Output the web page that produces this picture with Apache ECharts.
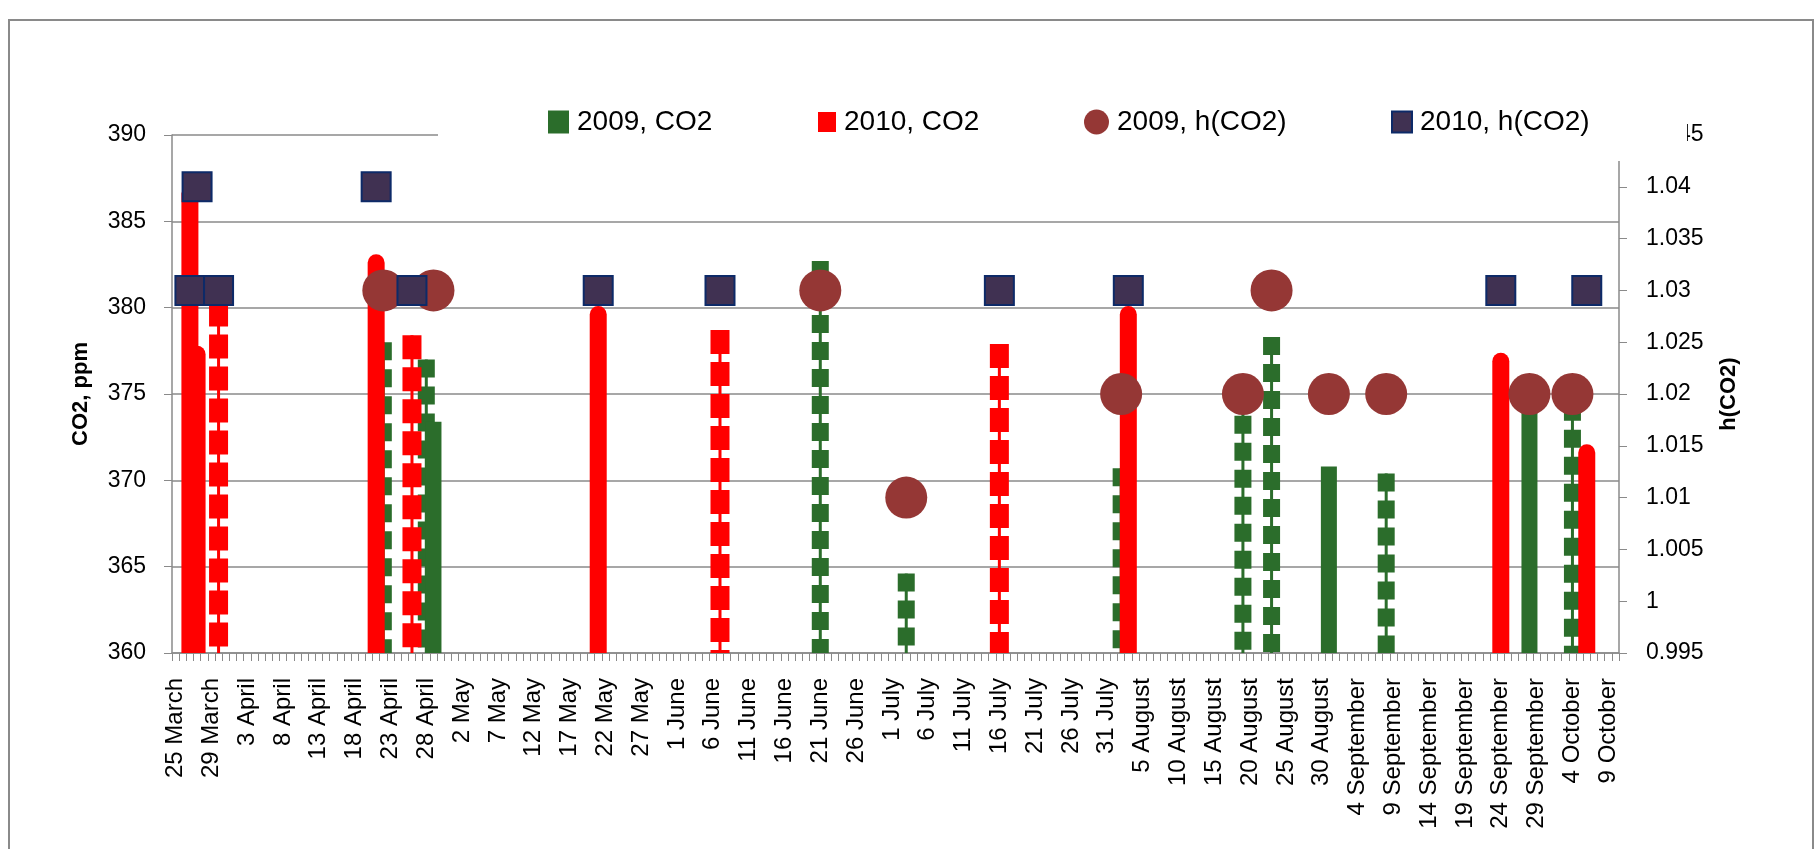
<!DOCTYPE html>
<html>
<head>
<meta charset="utf-8">
<title>CO2 and h(CO2), 2009 and 2010</title>
<script src="https://cdn.jsdelivr.net/npm/echarts@6/dist/echarts.min.js"></script>
<style>
  html, body { margin: 0; padding: 0; background: #fff; }
  #chart { width: 1818px; height: 849px; }
</style>
</head>
<body>
<div id="chart"></div>
<script>
// x-axis: one label every 5th day slot, slots counted from 25 March
const tickLabels = [
  '25 March', '29 March', '3 April', '8 April', '13 April', '18 April', '23 April', '28 April',
  '2 May', '7 May', '12 May', '17 May', '22 May', '27 May', '1 June', '6 June', '11 June',
  '16 June', '21 June', '26 June', '1 July', '6 July', '11 July', '16 July', '21 July',
  '26 July', '31 July', '5 August', '10 August', '15 August', '20 August', '25 August',
  '30 August', '4 September', '9 September', '14 September', '19 September',
  '24 September', '29 September', '4 October', '9 October',
];
const dayCount = 202;

// CO2, ppm (1 = drawn dotted)
const co2Days2009 = [29, 35, 36, 90, 102, 132, 149, 153, 161, 169, 189, 195];
const co2Values2009 = [378.0, 377.0, 373.4, 382.7, 364.6, 370.7, 375.3, 378.3, 370.8, 370.4, 375.2, 374.5];
const co2Dotted2009 = [1, 1, 0, 1, 1, 1, 1, 1, 0, 1, 0, 1];

const co2Days2010 = [2, 3, 6, 28, 33, 59, 76, 115, 133, 185, 197];
const co2Values2010 = [386.6, 377.3, 380.3, 382.6, 378.4, 379.6, 378.7, 377.9, 379.6, 376.9, 371.6];
const co2Dotted2010 = [0, 0, 1, 0, 1, 0, 1, 1, 0, 0, 0];

// h(CO2), right axis
const hDays2009 = [29, 36, 90, 102, 132, 149, 153, 161, 169, 189, 195];
const hValues2009 = [1.03, 1.03, 1.03, 1.01, 1.02, 1.02, 1.03, 1.02, 1.02, 1.02, 1.02];

const hDays2010 = [2, 3, 6, 28, 33, 59, 76, 115, 133, 185, 197];
const hValues2010 = [1.03, 1.04, 1.03, 1.04, 1.03, 1.03, 1.03, 1.03, 1.03, 1.03, 1.03];

const CO2_MIN = 360;
const GREEN = '#2b6d2b';
const RED = '#ff0000';
const AXIS_GREY = '#8a8a8a';

const categories = tickLabels.flatMap((label) => [label, '', '', '', '']).slice(0, dayCount);

const zip3 = (days, values, flags) => days.map((d, i) => [d, values[i], flags[i]]);
const zip2 = (days, values) => days.map((d, i) => [d, values[i]]);

// vertical stem from 360 up to the value; dotted = thin line under a thick dashed one
function stemRenderer(style) {
  return (params, api) => {
    const day = api.value(0);
    const top = api.coord([day, api.value(1)]);
    const base = api.coord([day, CO2_MIN]);
    const color = api.visual('color');
    if (!api.value(2)) {
      return {
        type: 'line',
        shape: { x1: base[0], y1: base[1], x2: top[0], y2: top[1] },
        style: { stroke: color, lineWidth: style.width, lineCap: style.cap },
      };
    }
    return {
      type: 'group',
      children: [
        {
          type: 'line',
          shape: { x1: base[0], y1: base[1], x2: top[0], y2: top[1] },
          style: { stroke: color, lineWidth: 3 },
        },
        {
          type: 'line',
          shape: { x1: top[0], y1: top[1], x2: base[0], y2: base[1] },
          style: { stroke: color, lineWidth: style.dotWidth, lineDash: style.dash, lineCap: 'butt' },
        },
      ],
    };
  };
}

const chart = echarts.init(document.getElementById('chart'));

const legendBase = {
  top: 107,
  padding: 0,
  itemGap: 0,
  z: 110,
  selectedMode: false,
  textStyle: { fontFamily: 'Liberation Sans', fontSize: 28, lineHeight: 30, color: '#000', padding: [0, 0, 0, 3] },
};

const axisText = { fontFamily: 'Liberation Sans', color: '#000' };

const option = {
  animation: false,
  backgroundColor: '#fff',
  grid: { left: 172, right: 199, top: 135, bottom: 196, outerBoundsMode: 'none' },
  legend: [
    { ...legendBase, left: 548, itemWidth: 21, itemHeight: 23, data: [{ name: '2009, CO2', icon: 'rect' }] },
    { ...legendBase, left: 818, itemWidth: 18, itemHeight: 20, data: [{ name: '2010, CO2', icon: 'rect' }] },
    { ...legendBase, left: 1084, itemWidth: 25, itemHeight: 25, data: [{ name: '2009, h(CO2)', icon: 'circle' }] },
    { ...legendBase, left: 1391, itemWidth: 20, itemHeight: 21, data: [{ name: '2010, h(CO2)', icon: 'rect' }] },
  ],
  graphic: [
    {
      type: 'rect',
      silent: true,
      z: 100,
      shape: { x: 438, y: 60, width: 1249, height: 101 },
      style: { fill: '#fff' },
    },
    {
      type: 'rect',
      silent: true,
      z: 1,
      shape: { x: 9, y: 20, width: 1804, height: 900 },
      style: { fill: 'none', stroke: AXIS_GREY, lineWidth: 2 },
    },
  ],
  xAxis: {
    type: 'category',
    data: categories,
    boundaryGap: true,
    axisLine: { lineStyle: { color: AXIS_GREY, width: 1.5 } },
    axisTick: { show: true, interval: 0, length: 8, lineStyle: { color: AXIS_GREY } },
    axisLabel: { ...axisText, interval: 4, rotate: 90, fontSize: 24, margin: 25 },
    splitLine: { show: false },
  },
  yAxis: [
    {
      type: 'value',
      min: 360,
      max: 390,
      interval: 5,
      name: 'CO2, ppm',
      nameLocation: 'middle',
      nameRotate: 90,
      nameGap: 80,
      nameTextStyle: { fontFamily: 'Liberation Sans', fontWeight: 'bold', fontSize: 22, color: '#000' },
      axisLine: { show: true, lineStyle: { color: AXIS_GREY, width: 1.5 } },
      axisTick: { show: true, length: 8, lineStyle: { color: AXIS_GREY } },
      axisLabel: { ...axisText, fontSize: 23, margin: 26 },
      splitLine: { show: true, lineStyle: { color: AXIS_GREY, width: 1.5 } },
    },
    {
      type: 'value',
      position: 'right',
      min: 0.995,
      max: 1.045,
      interval: 0.005,
      name: 'h(CO2)',
      nameLocation: 'middle',
      nameRotate: 90,
      nameGap: 99,
      nameTextStyle: { fontFamily: 'Liberation Sans', fontWeight: 'bold', fontSize: 22, color: '#000' },
      axisLine: { show: true, lineStyle: { color: AXIS_GREY, width: 1.5 } },
      axisTick: { show: true, length: 8, lineStyle: { color: AXIS_GREY } },
      axisLabel: { ...axisText, fontSize: 23, margin: 27 },
      splitLine: { show: false },
    },
  ],
  series: [
    {
      name: '2009, CO2',
      type: 'custom',
      clip: true,
      itemStyle: { color: GREEN },
      dimensions: ['day', 'co2', 'dotted'],
      encode: { x: 0, y: 1 },
      renderItem: stemRenderer({ width: 16, cap: 'butt', dotWidth: 17, dash: [18, 9] }),
      data: zip3(co2Days2009, co2Values2009, co2Dotted2009),
    },
    {
      name: '2010, CO2',
      type: 'custom',
      clip: true,
      itemStyle: { color: RED },
      dimensions: ['day', 'co2', 'dotted'],
      encode: { x: 0, y: 1 },
      renderItem: stemRenderer({ width: 17, cap: 'round', dotWidth: 19, dash: [24, 8] }),
      data: zip3(co2Days2010, co2Values2010, co2Dotted2010),
    },
    {
      name: '2009, h(CO2)',
      type: 'scatter',
      yAxisIndex: 1,
      symbol: 'circle',
      symbolSize: 42,
      itemStyle: { color: '#953735', opacity: 1 },
      data: zip2(hDays2009, hValues2009),
    },
    {
      name: '2010, h(CO2)',
      type: 'scatter',
      yAxisIndex: 1,
      symbol: 'rect',
      symbolSize: 29,
      itemStyle: { color: '#403152', borderColor: '#0d2a68', borderWidth: 2, opacity: 1 },
      data: zip2(hDays2010, hValues2010),
    },
  ],
};

chart.setOption(option);

window.addEventListener('resize', () => chart.resize());
</script>
</body>
</html>
